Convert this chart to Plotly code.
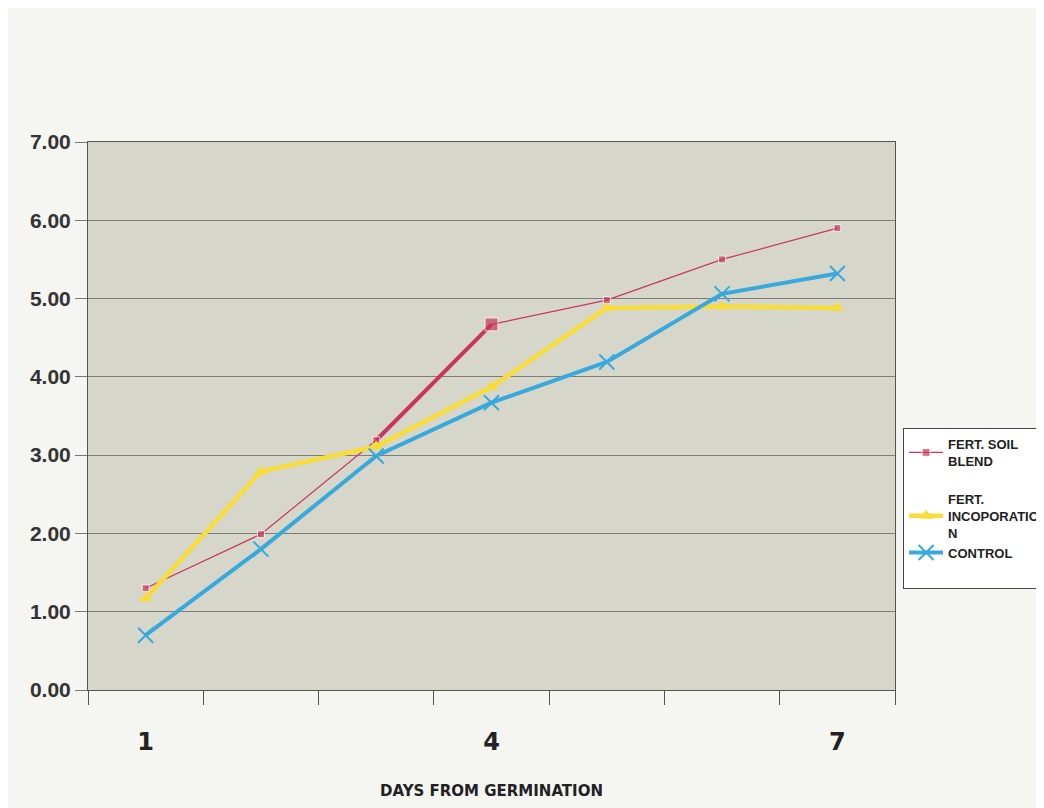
import plotly.graph_objects as go

days = [1, 2, 3, 4, 5, 6, 7]
tick_days = [1, 4, 7]
tick_labels = ["1", "4", "7"]
y_ticks = [0, 1, 2, 3, 4, 5, 6, 7]

soil_blend = [1.30, 1.99, 3.19, 4.67, 4.98, 5.50, 5.90]
incorporation = [1.17, 2.79, 3.11, 3.87, 4.88, 4.90, 4.88]
control = [0.70, 1.80, 2.99, 3.67, 4.19, 5.06, 5.32]

names = ["FERT. SOIL<br>BLEND", "FERT.<br>INCOPORATIO<br>N", "CONTROL"]

RED = "#c9365e"
YEL = "#f7dc3a"
BLU = "#38a9dc"

fig = go.Figure()

# thick highlighted segment of the soil-blend series (days 3-4)
fig.add_trace(go.Scatter(
    x=days[2:4], y=soil_blend[2:4], mode="lines",
    line=dict(color=RED, width=4), showlegend=False, hoverinfo="skip"))

fig.add_trace(go.Scatter(
    x=days, y=soil_blend, name=names[0], mode="lines+markers",
    legendgroup="a",
    line=dict(color=RED, width=1.2),
    marker=dict(symbol="square", size=[7, 7, 7, 13, 7, 7, 7], color=RED)))

fig.add_trace(go.Scatter(
    x=days, y=incorporation, name=names[1], mode="lines+markers",
    legendgroup="b",
    line=dict(color=YEL, width=4.5),
    marker=dict(symbol="triangle-up", size=12, color=YEL)))

fig.add_trace(go.Scatter(
    x=days, y=control, name=names[2], mode="lines+markers",
    legendgroup="b",
    line=dict(color=BLU, width=4),
    marker=dict(symbol="x-thin", size=15, color=BLU,
                line=dict(color=BLU, width=2))))

# empty legend row to reproduce the blank space at the bottom of the legend box
fig.add_trace(go.Scatter(
    x=[None], y=[None], name=" ", mode="lines", legendgroup="b",
    line=dict(color="rgba(0,0,0,0)", width=0), hoverinfo="skip"))

fig.update_layout(
    width=1044, height=808,
    margin=dict(l=80, r=157, t=134, b=126, autoexpand=False),
    paper_bgcolor="#f5f5f2",
    plot_bgcolor="#d6d7ca",
    font=dict(family="Liberation Sans, Arial, sans-serif", color="#333333"),
    legend=dict(
        x=1.01, xanchor="left", y=0.478, yanchor="top",
        bgcolor="#ffffff", bordercolor="#444444", borderwidth=1,
        font=dict(size=13, color="#222222", family="Liberation Sans, Arial",
                  weight="bold"),
        tracegroupgap=18, itemwidth=34,
    ),
)

fig.update_xaxes(
    range=[0.5, 7.5],
    tickvals=tick_days, ticktext=tick_labels,
    ticks="", ticklabelstandoff=30,
    tickfont=dict(size=24, family="DejaVu Sans", color="#222222", weight="bold"),
    minor=dict(tick0=0.5, dtick=1, ticks="outside", ticklen=14,
               tickcolor="#555555", showgrid=False),
    showgrid=False, zeroline=False,
    showline=True, linecolor="#555555", linewidth=1, mirror=True,
    title=dict(text="DAYS FROM GERMINATION", standoff=30,
               font=dict(size=15, family="DejaVu Sans", color="#222222",
                         weight="bold")),
)

fig.update_yaxes(
    range=[0, 7], tickvals=y_ticks, tickformat=".2f",
    ticks="outside", ticklen=12, tickcolor="#777777",
    tickfont=dict(size=21, family="Liberation Sans, Arial", color="#333333",
                  weight="bold"),
    showgrid=True, gridcolor="#7d7d78", gridwidth=1,
    zeroline=False,
    showline=True, linecolor="#555555", linewidth=1, mirror=True,
)

fig.write_html("out.html")
